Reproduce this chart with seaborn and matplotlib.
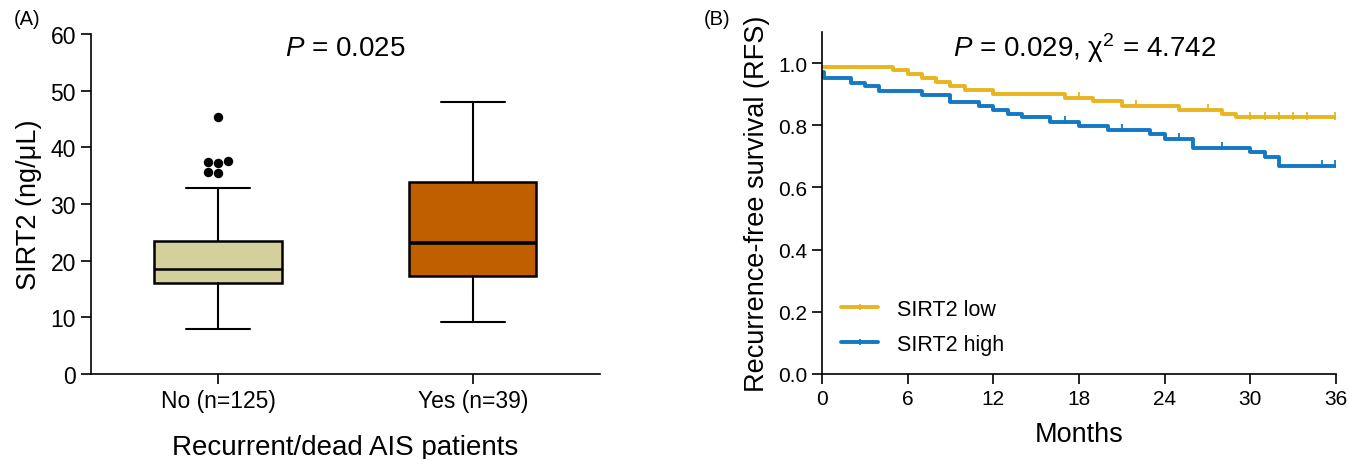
import numpy as np
import pandas as pd
import matplotlib
matplotlib.use("Agg")
import matplotlib.pyplot as plt
from matplotlib.lines import Line2D
import seaborn as sns

# ---------------- data: panel A (box plot summary) ----------------
groups = ["No (n=125)", "Yes (n=39)"]
whislo = [8.0, 9.2]
q1 = [16.1, 17.3]
med = [18.6, 23.1]
q3 = [23.5, 33.9]
whishi = [32.9, 48.0]
outliers_no = [45.3, 37.6, 37.2, 37.5, 35.4, 35.6]
box_colors = ["#D4D09C", "#C05F00"]

# ---------------- data: panel B (Kaplan-Meier steps) ----------------
low_t = [0, 5, 6, 7, 8, 9, 10, 12, 17, 19, 21, 25, 28, 29, 36]
low_s = [0.988, 0.979, 0.965, 0.953, 0.940, 0.927, 0.914, 0.901, 0.889,
         0.877, 0.863, 0.850, 0.837, 0.825, 0.825]
high_t = [0, 0.15, 2, 3, 4, 7, 9, 11, 12, 13, 14, 16, 18, 20, 23, 24, 26,
          30, 31, 32, 36]
high_s = [0.970, 0.952, 0.937, 0.925, 0.911, 0.898, 0.876, 0.863, 0.850,
          0.837, 0.825, 0.812, 0.797, 0.785, 0.772, 0.756, 0.728, 0.713,
          0.697, 0.668, 0.668]
low_cens = [18, 22, 27, 30, 31, 32, 33, 34, 35.9]
high_cens = [17, 21, 25, 28, 35, 35.9]
series_names = ["SIRT2 low", "SIRT2 high"]
series_colors = ["#E8B520", "#1479C4"]

# ---------------- style ----------------
sns.set_style("ticks")
plt.rcParams["font.family"] = ["Liberation Sans", "DejaVu Sans"]
plt.rcParams["mathtext.fontset"] = "custom"
plt.rcParams["mathtext.rm"] = "Liberation Sans"
plt.rcParams["mathtext.it"] = "Liberation Sans:italic"
plt.rcParams["axes.linewidth"] = 1.2
plt.rcParams["xtick.major.width"] = 1.2
plt.rcParams["ytick.major.width"] = 1.2
plt.rcParams["xtick.color"] = "black"
plt.rcParams["ytick.color"] = "black"
plt.rcParams["axes.edgecolor"] = "black"
plt.rcParams["text.color"] = "black"
plt.rcParams["axes.labelcolor"] = "black"

fig = plt.figure(figsize=(13.49, 4.60), dpi=100)
axA = fig.add_axes([0.0672, 0.1848, 0.3776, 0.7391])
axB = fig.add_axes([0.6093, 0.1848, 0.3811, 0.7435])

# ---------------- panel A ----------------
stats = []
for i in range(len(groups)):
    stats.append(dict(med=med[i], q1=q1[i], q3=q3[i], whislo=whislo[i],
                      whishi=whishi[i], fliers=[], label=groups[i]))
bp = axA.bxp(stats, positions=[0, 1], widths=0.5, patch_artist=True,
             showfliers=False, manage_ticks=False, capwidths=0.25,
             boxprops=dict(edgecolor="black", linewidth=1.8),
             medianprops=dict(color="black", linewidth=1.8),
             whiskerprops=dict(color="black", linewidth=1.5),
             capprops=dict(color="black", linewidth=1.5))
for patch, c in zip(bp["boxes"], box_colors):
    patch.set_facecolor(c)
bp["medians"][1].set_linewidth(2.6)

df_out = pd.DataFrame({"group": [groups[0]] * len(outliers_no),
                       "value": outliers_no})
sns.swarmplot(data=df_out, x="group", y="value", order=groups,
              color="black", size=6.8, ax=axA, zorder=5)

axA.set_xlim(-0.5, 1.5)
axA.set_ylim(0, 60)
axA.set_yticks(np.arange(0, 61, 10))
axA.set_xticks([0, 1])
axA.set_xticklabels(groups)
axA.tick_params(axis="both", labelsize=16.5, length=7)
axA.set_ylabel("SIRT2 (ng/μL)", fontsize=19.5, labelpad=6)
axA.set_xlabel("Recurrent/dead AIS patients", fontsize=20, labelpad=16)
axA.text(0.5, 0.96, r"$P$ = 0.025", transform=axA.transAxes,
         ha="center", va="center", fontsize=20)
sns.despine(ax=axA)

# ---------------- panel B ----------------
def step_value(ts, ss, t):
    idx = np.searchsorted(ts, t, side="right") - 1
    return ss[idx]

for name, ts, ss, cens, col in [
        (series_names[0], low_t, low_s, low_cens, series_colors[0]),
        (series_names[1], high_t, high_s, high_cens, series_colors[1])]:
    d = pd.DataFrame({"t": ts, "s": ss})
    sns.lineplot(data=d, x="t", y="s", drawstyle="steps-post", color=col,
                 linewidth=2.8, estimator=None, sort=False, ax=axB)
    cy = [step_value(np.array(ts), np.array(ss), c) + 0.006 for c in cens]
    sns.scatterplot(x=cens, y=cy, marker="|", s=30, color=col,
                    linewidth=1.3, ax=axB, zorder=4)

axB.set_xlim(0, 36)
axB.set_ylim(0, 1.1)
axB.set_xticks(np.arange(0, 37, 6))
axB.set_yticks(np.round(np.arange(0, 1.01, 0.2), 1))
axB.yaxis.set_major_formatter(matplotlib.ticker.FormatStrFormatter("%.1f"))
axB.tick_params(axis="both", labelsize=15, length=7)
axB.set_xlabel("Months", fontsize=19.5, labelpad=10)
axB.set_ylabel("Recurrence-free survival (RFS)", fontsize=19.5, labelpad=6)
axB.text(0.51, 0.955, r"$P$ = 0.029, χ$^{2}$ = 4.742", transform=axB.transAxes,
         ha="center", va="center", fontsize=20)
handles = [Line2D([], [], color=c, lw=2.8, marker="|", markersize=5,
                  markeredgewidth=1.3) for c in series_colors]
axB.legend(handles, series_names, loc="lower left",
           bbox_to_anchor=(0.0, 0.0), frameon=False, fontsize=15.5,
           handlelength=1.7, handletextpad=0.9, labelspacing=0.65)
sns.despine(ax=axB)

fig.text(0.010, 0.958, "(A)", fontsize=14.5, ha="left", va="center")
fig.text(0.522, 0.958, "(B)", fontsize=14.5, ha="left", va="center")

fig.savefig("out.png", dpi=100)
